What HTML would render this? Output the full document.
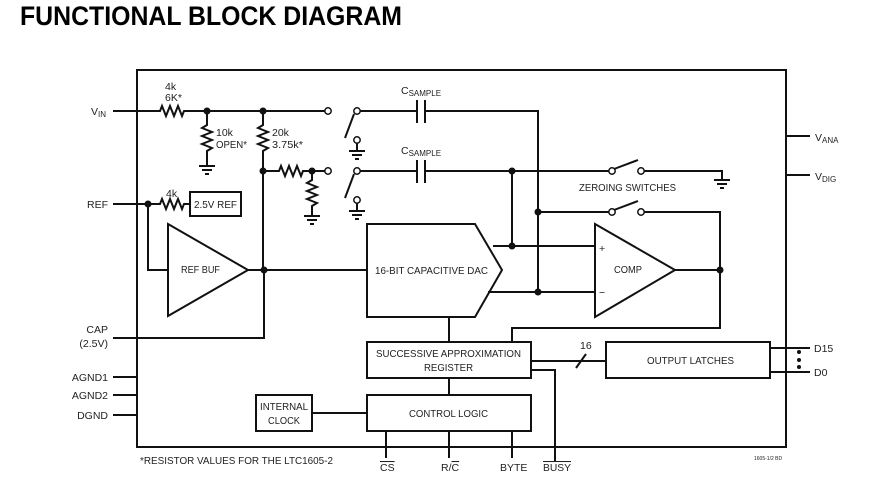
<!DOCTYPE html>
<html><head><meta charset="utf-8"><style>
html,body{margin:0;padding:0;background:#fff;}
svg{display:block;}
text{font-family:"Liberation Sans",sans-serif;fill:#222;}
</style></head><body>
<svg width="887" height="482" viewBox="0 0 887 482" xmlns="http://www.w3.org/2000/svg">
<text x="20" y="25" font-size="27" font-weight="bold" textLength="382" lengthAdjust="spacingAndGlyphs" style="fill:#000">FUNCTIONAL BLOCK DIAGRAM</text>
<g fill="none" stroke="#111" stroke-width="2">
<rect x="137" y="70" width="649" height="377"/>
<path d="M113 111H160l2-5 4 10 4-10 4 10 4-10 4 10 2-5H326"/>
<path d="M207 111V125l-5 3 10 4-10 4 10 4-10 4 10 4-5 3V166"/>
<path d="M199 166h16M202 170h10M205 174h4"/>
<path d="M263 111V125l-5 3 10 4-10 4 10 4-10 4 10 4-5 3V270"/>
<path d="M263 171H279l2-5 4 10 4-10 4 10 4-10 4 10 2-5H326"/>
<path d="M312 171V180l-5 3 10 4-10 4 10 4-10 4 10 4-5 3V216"/>
<path d="M304 216h16M307 220h10M310 224h4"/>
<path d="M354 114L345 138M354 174L345 198"/>
<path d="M357 143V151M349 151h16M352 155h10M355 159h4"/>
<path d="M357 203V211M349 211h16M352 215h10M355 219h4"/>
<path d="M360 111H417M417 100V123M425 100V123M425 111H538V292"/>
<path d="M360 171H417M417 160V183M425 160V183M425 171H609"/>
<path d="M512 171V246"/>
<path d="M614 169L638 160M644 171H722V180M714 180h16M717 184h10M720 188h4"/>
<path d="M538 212H609M614 210L638 201M644 212H720V328H512V342"/>
<path d="M367 224H475L502 270L475 317H367Z"/>
<path d="M264 270H367"/>
<path d="M493 246H595M488 292H595"/>
<path d="M595 224L675 270L595 317Z"/>
<path d="M675 270H720"/>
<path d="M113 204H160l2-5 4 10 4-10 4 10 4-10 4 10 2-5H190"/>
<rect x="190" y="192" width="51" height="24"/>
<path d="M148 204V270H168"/>
<path d="M168 224L248 270L168 316Z"/>
<path d="M248 270H264"/>
<path d="M113 338H264V270"/>
<path d="M113 377H137M113 395H137M113 415H137"/>
<path d="M786 136H810M786 175H810"/>
<path d="M449 317V342"/>
<rect x="367" y="342" width="164" height="36"/>
<path d="M449 378V395"/>
<rect x="367" y="395" width="164" height="36"/>
<rect x="256" y="395" width="56" height="36"/>
<path d="M312 413H367"/>
<path d="M531 361H606M576 368L586 354"/>
<rect x="606" y="342" width="164" height="36"/>
<path d="M770 348H810M770 372H810"/>
<path d="M531 370H555V462"/>
<path d="M386 431V458M449 431V458M512 431V458"/>
</g>
<g fill="#fff" stroke="#111" stroke-width="1.5">
<circle cx="328" cy="111" r="3.2"/><circle cx="357" cy="111" r="3.2"/>
<circle cx="328" cy="171" r="3.2"/><circle cx="357" cy="171" r="3.2"/>
<circle cx="357" cy="140" r="3.2"/><circle cx="357" cy="200" r="3.2"/>
<circle cx="612" cy="171" r="3.2"/><circle cx="641" cy="171" r="3.2"/>
<circle cx="612" cy="212" r="3.2"/><circle cx="641" cy="212" r="3.2"/>
</g>
<g fill="#111">
<circle cx="207" cy="111" r="3.5"/><circle cx="263" cy="111" r="3.5"/>
<circle cx="263" cy="171" r="3.5"/><circle cx="312" cy="171" r="3.5"/>
<circle cx="148" cy="204" r="3.5"/><circle cx="264" cy="270" r="3.5"/>
<circle cx="512" cy="171" r="3.5"/><circle cx="512" cy="246" r="3.5"/>
<circle cx="538" cy="212" r="3.5"/><circle cx="538" cy="292" r="3.5"/>
<circle cx="720" cy="270" r="3.5"/>
<circle cx="799" cy="352" r="2"/><circle cx="799" cy="360" r="2"/><circle cx="799" cy="367" r="2"/>
</g>
<g font-size="10.5" lengthAdjust="spacingAndGlyphs">
<text x="91" y="115">V<tspan font-size="8" dy="2">IN</tspan></text>
<text x="165" y="90">4k</text><text x="165" y="101">6K*</text>
<text x="216" y="136">10k</text><text x="216" y="148" textLength="31" lengthAdjust="spacingAndGlyphs">OPEN*</text>
<text x="272" y="136">20k</text><text x="272" y="148" textLength="31" lengthAdjust="spacingAndGlyphs">3.75k*</text>
<text x="401" y="94">C<tspan font-size="8" dy="2">SAMPLE</tspan></text>
<text x="401" y="154">C<tspan font-size="8" dy="2">SAMPLE</tspan></text>
<text x="579" y="191" textLength="97" lengthAdjust="spacingAndGlyphs">ZEROING SWITCHES</text>
<text x="108" y="208" text-anchor="end">REF</text>
<text x="166" y="197">4k</text>
<text x="194" y="208" textLength="43" lengthAdjust="spacingAndGlyphs">2.5V REF</text>
<text x="181" y="273" textLength="39" lengthAdjust="spacingAndGlyphs">REF BUF</text>
<text x="375" y="274" textLength="113" lengthAdjust="spacingAndGlyphs">16-BIT CAPACITIVE DAC</text>
<text x="614" y="273" textLength="28" lengthAdjust="spacingAndGlyphs">COMP</text>
<text x="599" y="252">+</text><text x="599" y="296">−</text>
<text x="108" y="333" text-anchor="end">CAP</text><text x="108" y="347" text-anchor="end">(2.5V)</text>
<text x="108" y="381" text-anchor="end">AGND1</text><text x="108" y="399" text-anchor="end">AGND2</text><text x="108" y="419" text-anchor="end">DGND</text>
<text x="815" y="141">V<tspan font-size="8" dy="2">ANA</tspan></text>
<text x="815" y="180">V<tspan font-size="8" dy="2">DIG</tspan></text>
<text x="376" y="357" textLength="145" lengthAdjust="spacingAndGlyphs">SUCCESSIVE APPROXIMATION</text>
<text x="424" y="371" textLength="49" lengthAdjust="spacingAndGlyphs">REGISTER</text>
<text x="409" y="417" textLength="79" lengthAdjust="spacingAndGlyphs">CONTROL LOGIC</text>
<text x="260" y="410" textLength="48" lengthAdjust="spacingAndGlyphs">INTERNAL</text><text x="268" y="424" textLength="32" lengthAdjust="spacingAndGlyphs">CLOCK</text>
<text x="580" y="349">16</text>
<text x="647" y="364" textLength="87" lengthAdjust="spacingAndGlyphs">OUTPUT LATCHES</text>
<text x="814" y="352">D15</text><text x="814" y="376">D0</text>
<text x="140" y="464" textLength="193" lengthAdjust="spacingAndGlyphs">*RESISTOR VALUES FOR THE LTC1605-2</text>
<text x="380" y="471" style="text-decoration:overline">CS</text>
<text x="441" y="471">R/<tspan style="text-decoration:overline">C</tspan></text>
<text x="500" y="471">BYTE</text>
<text x="543" y="471" textLength="28" lengthAdjust="spacingAndGlyphs" style="text-decoration:overline">BUSY</text>
<text x="754" y="460" font-size="5">1605-1/2 BD</text>
</g>
</svg>
</body></html>
